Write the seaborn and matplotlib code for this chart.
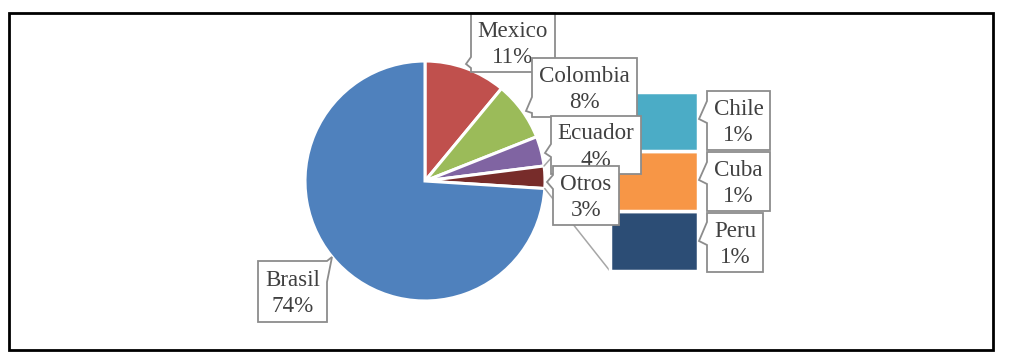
import numpy as np
import matplotlib
matplotlib.use("Agg")
import matplotlib.pyplot as plt
from matplotlib.patches import Polygon, Rectangle
import seaborn as sns

# ---- data ----
pie_labels = ["Mexico", "Colombia", "Ecuador", "Otros", "Brasil"]
pie_values = [11, 8, 4, 3, 74]
pie_colors = ["#C0504D", "#9BBB59", "#8064A2", "#772C2A", "#4F81BD"]

bar_labels = ["Chile", "Cuba", "Peru"]
bar_values = [1, 1, 1]
bar_colors = ["#4BACC6", "#F79646", "#2C4D75"]

sns.set_theme(style="white")
plt.rcParams["font.family"] = ["Liberation Serif", "DejaVu Serif"]

W, H = 1011, 360
fig = plt.figure(figsize=(W / 100, H / 100), dpi=100)
ax = fig.add_axes([0, 0, 1, 1])


def Y(y):
    return H - y


# ---- pie ----
cx, cy, R = 425, Y(181), 120
wedges, _ = ax.pie(pie_values, colors=pie_colors, startangle=90, counterclock=False,
                   center=(cx, cy), radius=R,
                   wedgeprops=dict(edgecolor="white", linewidth=2.2, joinstyle="miter"))

# ---- stacked bar (breakdown of "Otros") ----
bar_x, bar_w = 654, 88
stack_top, stack_bottom = Y(91.5), Y(271)
scale = (stack_top - stack_bottom) / sum(bar_values)
bottom = stack_bottom
for lab, v, c in reversed(list(zip(bar_labels, bar_values, bar_colors))):
    ax.bar(bar_x, v * scale, bottom=bottom, width=bar_w, color=c,
           edgecolor="white", linewidth=2.5, zorder=2)
    bottom += v * scale

# ---- connector lines from "Otros" slice to the bar ----
tot = sum(pie_values)
idx = pie_labels.index("Otros")
a1 = 90 - 360 * sum(pie_values[:idx]) / tot
a2 = 90 - 360 * sum(pie_values[:idx + 1]) / tot
p1 = (cx + R * np.cos(np.radians(a1)), cy + R * np.sin(np.radians(a1)))
p2 = (cx + R * np.cos(np.radians(a2)), cy + R * np.sin(np.radians(a2)))
bx0 = bar_x - bar_w / 2
ax.plot([p1[0], bx0], [p1[1], stack_top], color="#A6A6A6", lw=1.1, zorder=1.5)
ax.plot([p2[0], bx0], [p2[1], stack_bottom], color="#A6A6A6", lw=1.1, zorder=1.5)


# ---- callout labels ----
def callout(text, box, tip, base, side="left", z=5):
    x0, y0, x1, y1 = box
    if side == "left":
        pts = [(x0, y0), (x1, y0), (x1, y1), (x0, y1), (x0, base[1]), tip, (x0, base[0])]
    else:  # pointer at top-right corner
        pts = [(x0, y0), (x1, y0), tip, (x1, base[1]), (x1, y1), (x0, y1)]
    pts = [(px, Y(py)) for px, py in pts]
    ax.add_patch(Polygon(pts, closed=True, facecolor="white", edgecolor="#8C8C8C",
                         lw=1.3, joinstyle="miter", zorder=z))
    ax.text((x0 + x1) / 2, Y((y0 + y1) / 2 + 2), text, ha="center", va="center",
            fontsize=16.6, color="#404040", linespacing=1.35, zorder=z + 0.1)


def pct(v):
    return f"{round(v / tot * 100)}%"


vals = dict(zip(pie_labels + bar_labels, pie_values + bar_values))
callout(f"Mexico\n{pct(vals['Mexico'])}", (471, 13, 555, 72), (466, 64), (57, 68), z=5)
callout(f"Colombia\n{pct(vals['Colombia'])}", (532, 58, 637, 117), (526, 111), (97, 113), z=6)
callout(f"Ecuador\n{pct(vals['Ecuador'])}", (551, 116, 641, 174), (545, 153), (144, 157), z=7)
callout(f"Otros\n{pct(vals['Otros'])}", (553, 166, 619, 225), (547, 182), (175, 189), z=8)
callout(f"Brasil\n{pct(vals['Brasil'])}", (258, 261, 327, 322), (332, 257), (261, 282),
        side="topright", z=5)
callout(f"Chile\n{pct(vals['Chile'])}", (707, 91, 770, 150), (699, 119), (101, 123), z=5)
callout(f"Cuba\n{pct(vals['Cuba'])}", (707, 152, 770, 211), (699, 180), (162, 184), z=5)
callout(f"Peru\n{pct(vals['Peru'])}", (707, 213, 763, 272), (699, 241), (222, 245), z=5)

# ---- outer frame ----
ax.add_patch(Rectangle((9, Y(350)), 984, 337, fill=False, edgecolor="black", lw=2, zorder=20))

ax.set_xlim(0, W)
ax.set_ylim(0, H)
ax.set_aspect("auto")
ax.axis("off")

fig.savefig("out.png", dpi=100, facecolor="white")
